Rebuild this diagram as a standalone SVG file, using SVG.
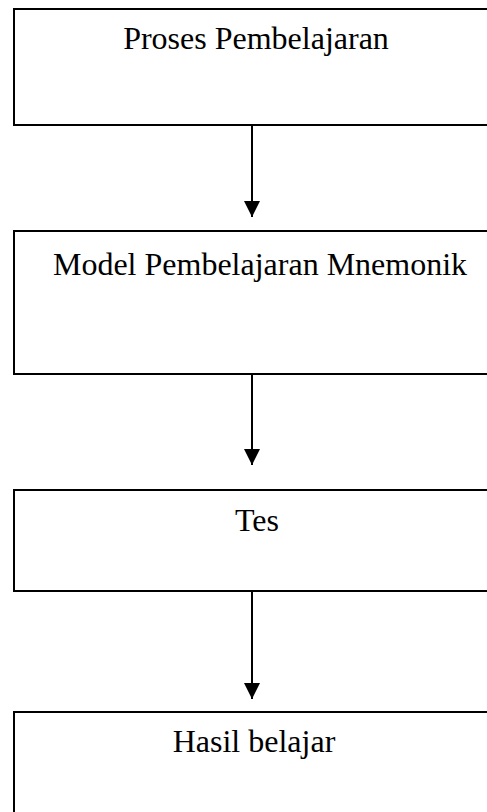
<svg xmlns="http://www.w3.org/2000/svg" width="487" height="812" viewBox="0 0 487 812">
<style>
.box{fill:#fff;stroke:#000;stroke-width:2}
.lbl{font-family:"Liberation Serif","Times New Roman",serif;font-size:32px;fill:#000;text-anchor:middle}
.conn{stroke:#000;stroke-width:2;fill:none}
</style>
<defs>
<marker id="ah" markerUnits="userSpaceOnUse" markerWidth="16" markerHeight="16" refX="16" refY="8" orient="auto">
<path d="M0,0 L16,8 L0,16 Z" fill="#000"/>
</marker>
</defs>
<rect width="487" height="812" fill="#fff"/>
<g id="n1"><rect class="box" x="14" y="9" width="484" height="116"/><text class="lbl" x="256" y="49">Proses Pembelajaran</text></g>
<g id="n2"><rect class="box" x="14" y="231" width="484" height="143"/><text class="lbl" x="260" y="275">Model Pembelajaran Mnemonik</text></g>
<g id="n3"><rect class="box" x="14" y="490" width="484" height="101"/><text class="lbl" x="257" y="531">Tes</text></g>
<g id="n4"><rect class="box" x="14" y="712" width="484" height="120"/><text class="lbl" x="254" y="752">Hasil belajar</text></g>
<g id="connectors">
<line class="conn" x1="252" y1="125" x2="252" y2="217" marker-end="url(#ah)"/>
<line class="conn" x1="252" y1="374" x2="252" y2="465" marker-end="url(#ah)"/>
<line class="conn" x1="252" y1="591" x2="252" y2="699" marker-end="url(#ah)"/>
</g>
</svg>
